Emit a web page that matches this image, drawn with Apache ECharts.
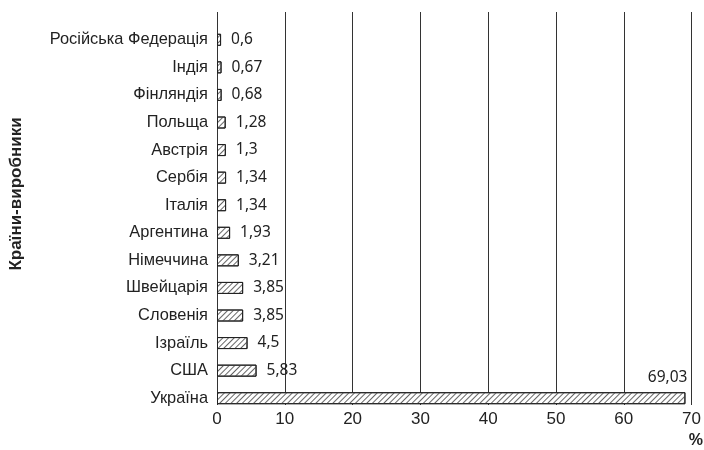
<!DOCTYPE html>
<html><head><meta charset="utf-8">
<script src="https://cdn.jsdelivr.net/npm/echarts@6/dist/echarts.min.js"></script>
<style>html,body{margin:0;padding:0;background:#fff}#c{width:704px;height:450px}</style>
</head><body><div id="c"></div>
<script>
const categories = ['Російська Федерація','Індія','Фінляндія','Польща','Австрія','Сербія','Італія','Аргентина','Німеччина','Швейцарія','Словенія','Ізраїль','США','Україна'];
const values = [0.6,0.67,0.68,1.28,1.3,1.34,1.34,1.93,3.21,3.85,3.85,4.5,5.83,69.03];
const valueLabels = ['0,6','0,67','0,68','1,28','1,3','1,34','1,34','1,93','3,21','3,85','3,85','4,5','5,83','69,03'];
const xTicks = [0,10,20,30,40,50,60,70];

const chart = echarts.init(document.getElementById('c'), null, {renderer:'canvas'});
const decal = {symbol:'rect', symbolSize:1, dashArrayX:[1,0], dashArrayY:[1,3], rotation:-Math.PI/4, color:'#666'};
const data = values.map((v,i)=>{
  const d = {value:v};
  if (i === values.length-1) {
    d.label = {position:'insideRight', offset:[2,-21], distance:0};
  }
  return d;
});
chart.setOption({
  animation:false,
  grid:[
    {left:217, right:12, top:26, bottom:38},
    {left:217, right:12, top:12, bottom:45}
  ],
  xAxis:[
    {gridIndex:0, type:'value', min:0, max:70, interval:10, show:false},
    {gridIndex:1, type:'value', min:0, max:70, interval:10,
     axisLine:{show:false}, axisTick:{show:false},
     splitLine:{show:true, lineStyle:{color:'#333', width:1}},
     axisLabel:{fontFamily:'Liberation Sans', fontSize:17, color:'#222', margin:6,
       formatter:(v)=> xTicks.includes(v) ? String(v) : ''}}
  ],
  yAxis:[
    {gridIndex:0, type:'category', data:categories, inverse:true,
     axisLine:{show:false}, axisTick:{show:false},
     axisLabel:{fontFamily:'Liberation Sans', fontSize:16.4, color:'#222', margin:9}},
    {gridIndex:1, type:'category', data:[], show:false}
  ],
  graphic:[
    {type:'text', right:1, top:433, style:{text:'%', font:'bold 16px "Liberation Sans"', fill:'#222'}},
    {type:'text', x:16, y:194, rotation:Math.PI/2,
     style:{text:'Країни-виробники', font:'bold 17px "Liberation Sans"', fill:'#222', align:'center', verticalAlign:'middle'}}
  ],
  series:[{
    type:'bar', xAxisIndex:0, yAxisIndex:0, data:data, barWidth:12,
    itemStyle:{color:'#fff', borderColor:'#222', borderWidth:1, decal:decal},
    label:{show:true, position:'right', distance:10, fontFamily:'Noto Sans', fontSize:15.5, color:'#222',
      formatter:(p)=>valueLabels[p.dataIndex]}
  }]
});
</script></body></html>
